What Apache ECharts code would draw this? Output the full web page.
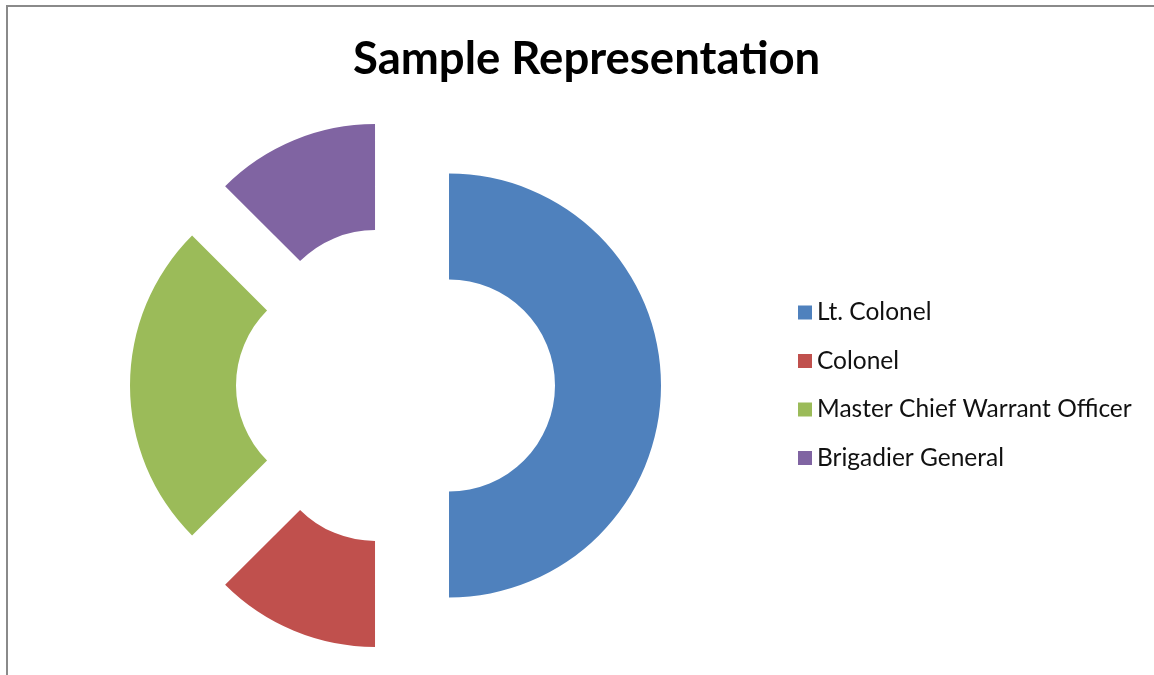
<!DOCTYPE html>
<html>
<head>
<meta charset="utf-8">
<title>Sample Representation</title>
<script src="https://cdn.jsdelivr.net/npm/echarts@6/dist/echarts.min.js"></script>
<style>
  html, body { margin: 0; padding: 0; background: #ffffff; }
  #chart { width: 1154px; height: 675px; }
</style>
</head>
<body>
<div id="chart"></div>
<script>
// Ranks and their share of the sample
const categories = ['Lt. Colonel', 'Colonel', 'Master Chief Warrant Officer', 'Brigadier General'];
const values = [50, 12.5, 25, 12.5];
const colors = ['#4F81BD', '#C0504D', '#9BBB59', '#8064A2'];
const chartTitle = 'Sample Representation';

const chart = echarts.init(document.getElementById('chart'), null, { renderer: 'canvas' });

const pieData = categories.map((name, i) => ({
  name: name,
  value: values[i],
  selected: true,
  itemStyle: { color: colors[i] }
}));

chart.setOption({
  animation: false,
  backgroundColor: '#ffffff',
  title: {
    text: chartTitle,
    left: 348,
    top: 31,
    textStyle: {
      fontFamily: 'Lato',
      fontWeight: 'bold',
      fontSize: 45.5,
      color: '#000000'
    }
  },
  legend: {
    orient: 'vertical',
    left: 793,
    top: 295,
    itemWidth: 14,
    itemHeight: 14,
    itemGap: 23.5,
    icon: 'rect',
    selectedMode: false,
    textStyle: {
      fontFamily: 'Lato',
      fontSize: 24.5,
      lineHeight: 25,
      color: '#111111',
      padding: [0, 0, 0, 0]
    },
    data: categories
  },
  graphic: [{
    type: 'polyline',
    shape: { points: [[7, 680], [7, 6], [1160, 6]] },
    style: { stroke: '#8a8a8a', lineWidth: 2, fill: null },
    silent: true
  }],
  series: [{
    type: 'pie',
    center: [395.5, 385.5],
    radius: [106, 212],
    startAngle: 90,
    clockwise: true,
    selectedMode: 'multiple',
    selectedOffset: 53.5,
    label: { show: false },
    labelLine: { show: false },
    emphasis: { disabled: true },
    data: pieData
  }]
});
</script>
</body>
</html>
